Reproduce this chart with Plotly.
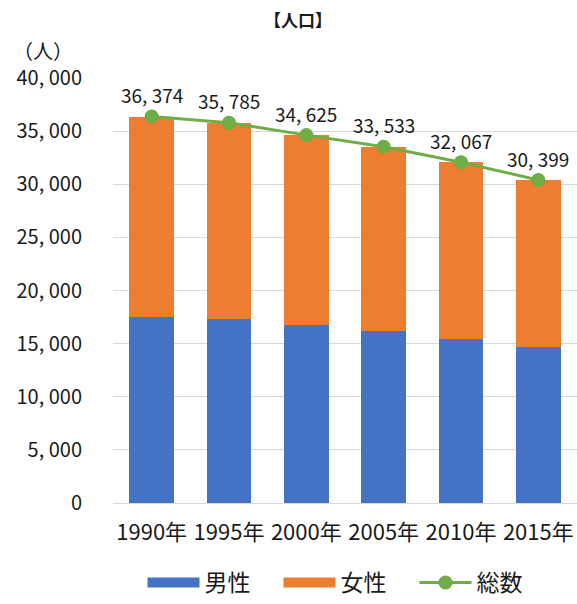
import plotly.graph_objects as go

# Population by census year
years = ["1990年", "1995年", "2000年", "2005年", "2010年", "2015年"]
total = [36374, 35785, 34625, 33533, 32067, 30399]
male = [17510, 17320, 16790, 16200, 15480, 14650]
female = [t - m for t, m in zip(total, male)]

y_ticks = [0, 5000, 10000, 15000, 20000, 25000, 30000, 35000, 40000]


def fmt(v):
    return f"{v:,}".replace(",", ", ")


y_labels = [fmt(v) for v in y_ticks]

BLUE = "#4472C4"
ORANGE = "#ED7D31"
GREEN = "#70AD47"
FONT = "Noto Sans CJK JP"
INK = "#1a1a1a"

# plot area in pixels: x 113..577, y 78..508
def px_x(p):
    return (p - 113) / 464


def px_y(p):
    return (508 - p) / 430


fig = go.Figure()
fig.add_trace(go.Bar(x=years, y=male, name="男性", marker_color=BLUE,
                     marker_line_width=0, showlegend=False))
fig.add_trace(go.Bar(x=years, y=female, name="女性", marker_color=ORANGE,
                     marker_line_width=0, showlegend=False))
fig.add_trace(go.Scatter(x=years, y=total, name="総数", mode="lines+markers",
                         line=dict(color=GREEN, width=3),
                         marker=dict(color=GREEN, size=14), showlegend=False))

# legend entries drawn as wide swatches
fig.add_trace(go.Scatter(x=[None], y=[None], name="男性　", mode="lines",
                         line=dict(color=BLUE, width=10)))
fig.add_trace(go.Scatter(x=[None], y=[None], name="女性　", mode="lines",
                         line=dict(color=ORANGE, width=10)))
fig.add_trace(go.Scatter(x=[None], y=[None], name="総数", mode="lines+markers",
                         line=dict(color=GREEN, width=3),
                         marker=dict(color=GREEN, size=14)))

# value labels above each total point
for yr, v in zip(years, total):
    fig.add_annotation(x=yr, y=v, xref="x", yref="y", text=fmt(v),
                       showarrow=False, yshift=22,
                       font=dict(family=FONT, size=19, color=INK))

fig.add_annotation(xref="paper", yref="paper", x=px_x(298), y=px_y(19),
                   xanchor="center", yanchor="middle",
                   text="<b>【人口】</b>", showarrow=False,
                   font=dict(family=FONT, size=17, color=INK))
fig.add_annotation(xref="paper", yref="paper", x=px_x(43), y=px_y(50),
                   xanchor="center", yanchor="middle",
                   text="（人）", showarrow=False,
                   font=dict(family=FONT, size=20, color=INK))

fig.update_layout(
    width=577, height=604,
    margin=dict(l=113, r=0, t=78, b=96),
    barmode="stack", bargap=0.42,
    plot_bgcolor="white", paper_bgcolor="white",
    font=dict(family=FONT, size=20, color=INK),
    legend=dict(orientation="h", x=px_x(335), xanchor="center",
                y=px_y(589), yanchor="middle",
                itemwidth=52, font=dict(size=23), traceorder="normal"),
    xaxis=dict(showline=False, ticks="", tickfont=dict(size=22),
               ticklabelstandoff=14),
    yaxis=dict(range=[0, 40000], tickvals=y_ticks, ticktext=y_labels,
               showgrid=True, gridcolor="#D9D9D9", gridwidth=1,
               zeroline=True, zerolinecolor="#D9D9D9", zerolinewidth=1,
               showline=False, ticks="", ticklabelstandoff=30,
               tickfont=dict(size=20)),
)

fig.write_html("out.html")
